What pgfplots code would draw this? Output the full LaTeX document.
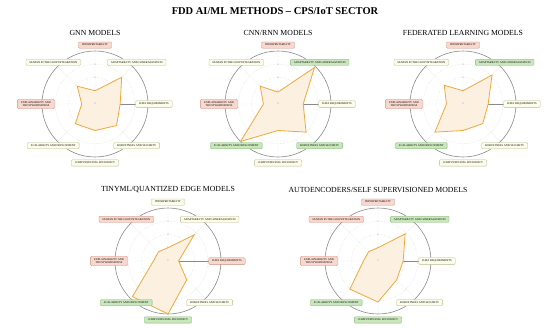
\documentclass[border=0pt]{standalone}
\usepackage{pgfplots}
\pgfplotsset{compat=1.18}
\usepgfplotslibrary{polar}
\usepackage{fontspec}
\setmainfont{Liberation Serif}
\definecolor{lineor}{HTML}{EDAA3C}
\definecolor{fillor}{HTML}{FCF0E1}
\definecolor{redf}{HTML}{F8D8CE}
\definecolor{redd}{HTML}{C98A7A}
\definecolor{grnf}{HTML}{C9E6BC}
\definecolor{grnd}{HTML}{86B874}
\definecolor{crmf}{HTML}{FCFCEA}
\definecolor{crmd}{HTML}{B9B98F}
\definecolor{circ}{HTML}{8A8A8A}
\tikzset{
 lab/.style={draw, rounded corners=1bp, line width=0.3bp, font=\fontsize{2.8}{3.2}\selectfont, inner xsep=3.5bp, inner ysep=2.2bp, align=center},
 R/.style={lab, fill=redf, draw=redd},
 G/.style={lab, fill=grnf, draw=grnd},
 C/.style={lab, fill=crmf, draw=crmd},
 tl/.style={font=\fontsize{2.5}{3}\selectfont, text=gray, inner sep=0.5bp},
}
\pgfplotsset{radar/.style={
  width=106bp, height=106bp, scale only axis, anchor=center,
  xmin=0, xmax=360, ymin=0, ymax=4,
  xtick={0,45,...,315}, xticklabels={},
  ytick={1,2,3}, yticklabels={},
  grid=major, major grid style={gray!40, densely dotted, line width=0.3bp},
  axis line style={circ, line width=0.6bp},
  tick style={draw=none},
  clip=false,
}}
\newcommand{\radarlabels}[8]{%
 \node[tl] at (axis cs:90,0) {0};
 \node[tl] at (axis cs:90,1) {1};
 \node[tl] at (axis cs:90,2) {2};
 \node[tl] at (axis cs:90,3) {3};
 \node[#1] at (axis cs:90,4.45) {INTERPRETABILITY};
 \node[#2] at (axis cs:45,4.45) {ADAPTABILITY AND GENERALIZATION};
 \node[#3] at (axis cs:0,4.45) {DATA REQUIREMENTS};
 \node[#4] at (axis cs:315,4.45) {ROBUSTNESS AND SECURITY};
 \node[#5] at (axis cs:270,4.45) {COMPUTATIONAL EFFICIENCY};
 \node[#6] at (axis cs:225,4.45) {SCALABILITY AND DEPLOYMENT};
 \node[#7] at (axis cs:180,4.45) {EXPLAINABILITY AND\\TRUSTWORTHINESS};
 \node[#8] at (axis cs:135,4.45) {HUMAN IN THE LOOP INTEGRATION};
}
\begin{document}
\begin{tikzpicture}
\useasboundingbox (0bp,0bp) rectangle (550bp,-329bp);
\node[font=\bfseries\fontsize{10.5}{12}\selectfont] at (275bp,-11bp) {FDD AI/ML METHODS – CPS/IoT SECTOR};
\node[font=\fontsize{7.8}{9}\selectfont] at (95bp,-33bp) {GNN MODELS};
\node[font=\fontsize{7.8}{9}\selectfont] at (278bp,-33bp) {CNN/RNN MODELS};
\node[font=\fontsize{7.8}{9}\selectfont] at (463bp,-33bp) {FEDERATED LEARNING MODELS};
\node[font=\fontsize{7.8}{9}\selectfont] at (168bp,-190bp) {TINYML/QUANTIZED EDGE MODELS};
\node[font=\fontsize{7.8}{9}\selectfont] at (378bp,-190bp) {AUTOENCODERS/SELF SUPERVISIONED MODELS};

\begin{polaraxis}[radar, at={(95bp,-104bp)}]
\addplot[lineor, line width=0.8bp, fill=fillor, mark=none] coordinates {(90,1.0) (45,2.85) (0,1.9) (315,2.3) (270,2.0) (225,2.1) (180,1.0) (135,1.9) (90,1.0)};
\radarlabels{R}{C}{C}{C}{C}{C}{R}{C}
\end{polaraxis}

\begin{polaraxis}[radar, at={(278bp,-104bp)}]
\addplot[lineor, line width=0.8bp, fill=fillor, mark=none] coordinates {(90,0.9) (45,3.9) (0,1.9) (315,3.0) (270,2.0) (225,4.0) (180,1.1) (135,1.9) (90,0.9)};
\radarlabels{R}{G}{C}{G}{C}{G}{R}{C}
\end{polaraxis}

\begin{polaraxis}[radar, at={(463bp,-104bp)}]
\addplot[lineor, line width=0.8bp, fill=fillor, mark=none] coordinates {(90,1.0) (45,3.1) (0,1.9) (315,2.1) (270,2.0) (225,3.0) (180,1.25) (135,2.0) (90,1.0)};
\radarlabels{R}{G}{C}{C}{C}{G}{R}{C}
\end{polaraxis}

\begin{polaraxis}[radar, at={(168bp,-261bp)}]
\addplot[lineor, line width=0.8bp, fill=fillor, mark=none] coordinates {(90,1.0) (45,2.8) (0,0.8) (315,2.0) (270,4.0) (225,3.8) (180,1.1) (135,1.0) (90,1.0)};
\radarlabels{C}{C}{R}{C}{G}{G}{R}{R}
\end{polaraxis}

\begin{polaraxis}[radar, at={(378bp,-261bp)}]
\addplot[lineor, line width=0.8bp, fill=fillor, mark=none] coordinates {(90,1.0) (45,2.9) (0,1.9) (315,2.0) (270,3.1) (225,3.0) (180,1.1) (135,1.0) (90,1.0)};
\radarlabels{R}{G}{C}{C}{G}{G}{R}{R}
\end{polaraxis}
\end{tikzpicture}
\end{document}
